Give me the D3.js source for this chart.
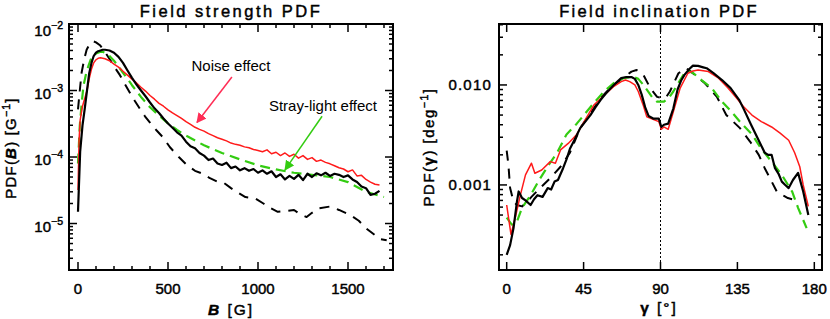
<!DOCTYPE html>
<html>
<head>
<meta charset="utf-8">
<script src="https://cdn.jsdelivr.net/npm/d3@7"></script>
<style>
  body { margin: 0; background: #fff; }
  svg { display: block; font-family: "Liberation Sans", Arial, sans-serif; }
  .ax { stroke: #000; stroke-width: 0.45px; }
</style>
</head>
<body>
<svg id="chart" width="830" height="319"></svg>
<script>
// ---- left panel: field strength PDF ----
var bObs = [0,12,25,37,50,62,75,87,100,112,125,137,150,175,200,225,250,275,300,325,350,375,400,425,450,475,500,525,550,575,600,625,650,675,700,725,750,775,800,825,850,875,900,925,950,975,1000,1025,1050,1075,1100,1125,1150,1175,1200,1225,1250,1275,1300,1325,1350,1375,1400,1425,1450,1475,1500,1525,1550,1575,1600,1625,1650,1675];
var pdfObs = [1.5e-5,1.2e-4,3.0e-4,5.2e-4,1.0e-3,1.8e-3,2.6e-3,3.3e-3,3.7e-3,3.9e-3,4.0e-3,4.1e-3,4.1e-3,4.0e-3,3.7e-3,3.2e-3,2.6e-3,2.0e-3,1.55e-3,1.23e-3,1.0e-3,8.2e-4,6.6e-4,5.4e-4,4.6e-4,3.8e-4,3.2e-4,2.75e-4,2.35e-4,2.1e-4,1.7e-4,1.45e-4,1.35e-4,1.15e-4,1.05e-4,9.0e-5,9.5e-5,8.0e-5,7.6e-5,8.2e-5,6.8e-5,7.2e-5,6.3e-5,6.8e-5,6.2e-5,6.6e-5,5.8e-5,6.3e-5,5.6e-5,6.1e-5,5.0e-5,5.5e-5,4.6e-5,5.2e-5,4.7e-5,5.4e-5,4.5e-5,5.6e-5,5.0e-5,5.7e-5,5.3e-5,5.8e-5,5.2e-5,5.6e-5,5.4e-5,5.0e-5,5.3e-5,4.6e-5,4.2e-5,3.6e-5,3.4e-5,2.7e-5,2.8e-5,3.1e-5];

var bNoise = [0,6,12,25,37,50,62,75,87,100,112,125,150,175,200,225,250,275,300,325,350,375,400,425,450,475,500,525,550,575,600,625,650,675,700,725,750,775,800,825,850,875,900,925,950,975,1000,1025,1050,1075,1100,1125,1150,1175,1200,1225,1250,1275,1300,1325,1350,1375,1400,1425,1450,1475,1500,1525,1550,1575,1600,1625,1650,1675];
var pdfNoise = [3.2e-5,1.8e-4,3.6e-4,5.8e-4,7.5e-4,1.0e-3,1.5e-3,2.1e-3,2.6e-3,2.9e-3,3.05e-3,3.1e-3,3.0e-3,2.8e-3,2.5e-3,2.25e-3,1.95e-3,1.7e-3,1.48e-3,1.3e-3,1.12e-3,9.8e-4,8.4e-4,7.4e-4,6.4e-4,5.8e-4,5.1e-4,4.6e-4,4.2e-4,3.8e-4,3.4e-4,3.1e-4,2.8e-4,2.6e-4,2.45e-4,2.25e-4,2.1e-4,1.95e-4,1.85e-4,1.75e-4,1.62e-4,1.55e-4,1.5e-4,1.42e-4,1.38e-4,1.3e-4,1.25e-4,1.2e-4,1.28e-4,1.12e-4,1.18e-4,1.05e-4,1.15e-4,1.02e-4,1.1e-4,9.6e-5,1.05e-4,9.2e-5,9.8e-5,8.6e-5,9.0e-5,8.3e-5,7.9e-5,7.4e-5,6.9e-5,6.6e-5,6.0e-5,6.4e-5,5.2e-5,5.3e-5,4.6e-5,4.2e-5,3.9e-5,3.8e-5];

var bStray = [0,10,20,30,45,57,70,85,100,122,140,160,180,200,225,250,275,300,350,400,450,500,550,600,700,800,900,1000,1100,1200,1300,1400,1500,1600,1700];
var pdfStray = [8e-5,3e-4,6.2e-4,1.16e-3,1.8e-3,2.3e-3,2.9e-3,3.3e-3,3.6e-3,3.8e-3,3.8e-3,3.6e-3,3.2e-3,2.8e-3,2.3e-3,1.85e-3,1.5e-3,1.2e-3,8.0e-4,5.6e-4,4.2e-4,3.2e-4,2.55e-4,2.1e-4,1.5e-4,1.15e-4,9.2e-5,7.5e-5,6.5e-5,5.8e-5,5.4e-5,5.0e-5,4.2e-5,3.0e-5,2.5e-5];

var bModel = [0,10,20,35,48,65,85,100,122,150,178,205,233,260,289,315,344,372,400,437,474,511,560,600,650,700,733,780,810,850,890,930,983,1030,1070,1110,1160,1200,1230,1270,1300,1340,1400,1450,1511,1560,1600,1640,1680,1715];
var pdfModel = [5.2e-4,1.0e-3,1.85e-3,3.0e-3,4.1e-3,5.0e-3,5.5e-3,5.3e-3,4.8e-3,3.8e-3,2.9e-3,2.2e-3,1.7e-3,1.25e-3,9.2e-4,7.0e-4,5.3e-4,4.1e-4,3.3e-4,2.5e-4,1.95e-4,1.4e-4,1.0e-4,7.8e-5,6.2e-5,5.5e-5,4.8e-5,4.2e-5,4.1e-5,3.4e-5,2.9e-5,2.5e-5,2.4e-5,2.0e-5,1.7e-5,1.5e-5,1.55e-5,1.6e-5,1.4e-5,1.25e-5,1.45e-5,1.7e-5,1.8e-5,1.6e-5,1.35e-5,1.1e-5,8.5e-6,7.0e-6,5.8e-6,5.6e-6];

var bTicks = [0, 500, 1000, 1500];
var bPdfTicks = [1e-5, 1e-4, 1e-3, 1e-2];
var bPdfExp = ["\u22125", "\u22124", "\u22123", "\u22122"];

// ---- right panel: field inclination PDF ----
var gObs = [0,2,4,6,7,9,11,14,16,18,21,24,26,28,30,33,35,37,40,43,46,49,52,55,58,61,64,67,70,73,75,77,79,81,83,86,89,90.5,92,94.5,97.5,100,102,104,107,109,112,115,117,121,126,131,136,139,143,147,151,153,155,157,159,161,163,165,167.5,170.5,173.5,176.5];
var pdfGObs = [2.0e-4,2.5e-4,3.7e-4,6.8e-4,8.6e-4,7.4e-4,7.0e-4,6.3e-4,7.2e-4,7.9e-4,7.6e-4,9.3e-4,9.0e-4,1.08e-3,1.12e-3,1.47e-3,1.8e-3,2.3e-3,2.9e-3,3.7e-3,4.3e-3,5.0e-3,6.0e-3,7.1e-3,8.2e-3,9.3e-3,1.05e-2,1.17e-2,1.2e-2,1.2e-2,1.15e-2,1.0e-2,8.0e-3,6.0e-3,4.9e-3,4.6e-3,4.6e-3,3.8e-3,4.0e-3,4.1e-3,5.8e-3,9.0e-3,1.1e-2,1.26e-2,1.45e-2,1.56e-2,1.55e-2,1.5e-2,1.47e-2,1.31e-2,1.12e-2,9.3e-3,7.1e-3,5.6e-3,4.0e-3,2.9e-3,2.1e-3,2.0e-3,2.0e-3,1.47e-3,1.3e-3,1.08e-3,1.0e-3,9.3e-4,1.12e-3,1.32e-3,8.6e-4,5.0e-4];

var gNoise = [0,2.5,5,8,11,14.5,16.5,20.5,25.5,28.5,31.5,36,41,46,51,57,62.5,67,69.5,72,75,77,80,82,86,89,90.5,92,94.5,97.5,101.5,106,109,112,118,124,129.5,134.5,138.5,143.5,149,155,160,165,168.5,171.5,173.5,176.5];
var pdfGNoise = [6.3e-4,3.2e-4,4.7e-4,7.9e-4,1.26e-3,1.65e-3,1.31e-3,1.41e-3,1.71e-3,1.65e-3,2.24e-3,2.6e-3,3.2e-3,4.5e-3,6.3e-3,7.9e-3,9.6e-3,1.08e-2,1.12e-2,1.08e-2,1.0e-2,8.6e-3,6.2e-3,4.8e-3,4.5e-3,4.3e-3,3.6e-3,3.8e-3,3.6e-3,5.4e-3,9.3e-3,1.31e-2,1.38e-2,1.41e-2,1.36e-2,1.17e-2,9.3e-3,7.4e-3,6.1e-3,5.0e-3,4.3e-3,3.8e-3,3.3e-3,2.8e-3,2.1e-3,1.52e-3,1.0e-3,6.1e-4];

var gStray = [0,3,6,9,14,19,24.5,29.5,35,41,46,51,57,62.5,68.5,74,77,80,85,88,92,95,97.5,101.5,105,109,114,120,126,131.5,137.5,143.5,149,155,161,167,170.5,175.5];
var pdfGStray = [4.7e-4,4.0e-4,4.3e-4,5.9e-4,7.9e-4,1.12e-3,1.58e-3,2.1e-3,3.2e-3,4.1e-3,5.2e-3,6.6e-3,8.6e-3,1.04e-2,1.17e-2,1.21e-2,1.15e-2,1.0e-2,7.6e-3,6.8e-3,6.8e-3,7.5e-3,8.6e-3,1.12e-2,1.4e-2,1.32e-2,1.12e-2,9.3e-3,6.8e-3,5.4e-3,4.1e-3,3.2e-3,2.3e-3,1.71e-3,1.26e-3,8.6e-4,5.9e-4,3.7e-4];

var gModel = [0,1,2,4,6,9,12,14.5,19.5,25.5,31.5,37,43,49,55,60.5,66.5,73,76,80,84,88,91,93,95.5,100.5,105,108,116,123,128.5,136.5,142.5,147.5,151,154,158,162,164.5,167];
var pdfGModel = [2.2e-3,1.6e-3,9.3e-4,6.8e-4,6.3e-4,6.1e-4,6.8e-4,7.6e-4,9.3e-4,1.17e-3,1.52e-3,2.1e-3,3.7e-3,5.2e-3,7.4e-3,9.3e-3,1.12e-2,1.36e-2,1.41e-2,1.26e-2,9.3e-3,7.6e-3,7.4e-3,7.4e-3,8.6e-3,1.31e-2,1.47e-2,1.35e-2,1.04e-2,7.6e-3,5.0e-3,3.7e-3,2.7e-3,2.0e-3,1.47e-3,1.17e-3,8.6e-4,7.8e-4,7.4e-4,7.2e-4];

var gTicks = [0, 45, 90, 135, 180];
var gPdfTicks = [0.001, 0.01];
var gPdfLabels = ["0.001", "0.010"];

var svg = d3.select("#chart");
var red = "#ff1a1a", green = "#33cc11";

// scales
var xB = d3.scaleLinear().domain([-50, 1750]).range([69, 393]);
var yB = d3.scaleLog().domain([2e-6, 1e-2]).range([270, 24]);
var xG = d3.scaleLinear().domain([-4.5, 184.5]).range([499, 822]);
var yG = d3.scaleLog().domain([1.41e-4, 0.0407]).range([270, 24]);

function series(xs, ys, x, y, color, width, dash) {
  var pts = xs.map(function(d, i) { return [d, ys[i]]; });
  svg.append("path")
    .datum(pts)
    .attr("fill", "none")
    .attr("stroke", color)
    .attr("stroke-width", width)
    .attr("stroke-dasharray", dash)
    .attr("stroke-linejoin", "round")
    .attr("d", d3.line().x(function(d) { return x(d[0]); }).y(function(d) { return y(d[1]); }));
}

// inward ticks on all four sides
function ticks(x, y, xMajor, xMinor, yMajor, yMinor) {
  var x0 = x.range()[0], x1 = x.range()[1], y0 = y.range()[0], y1 = y.range()[1];
  var g = svg.append("g").attr("stroke", "#000").attr("stroke-width", 1.5);
  xMajor.concat(xMinor).forEach(function(v) {
    var len = xMajor.indexOf(v) >= 0 ? 8 : 4;
    g.append("line").attr("x1", x(v)).attr("x2", x(v)).attr("y1", y0).attr("y2", y0 - len);
    g.append("line").attr("x1", x(v)).attr("x2", x(v)).attr("y1", y1).attr("y2", y1 + len);
  });
  yMajor.concat(yMinor).forEach(function(v) {
    var len = yMajor.indexOf(v) >= 0 ? 8 : 4;
    g.append("line").attr("y1", y(v)).attr("y2", y(v)).attr("x1", x0).attr("x2", x0 + len);
    g.append("line").attr("y1", y(v)).attr("y2", y(v)).attr("x1", x1).attr("x2", x1 - len);
  });
  svg.append("rect")
    .attr("x", x0).attr("y", y1)
    .attr("width", x1 - x0).attr("height", y0 - y1)
    .attr("fill", "none").attr("stroke", "#000").attr("stroke-width", 2);
}

// ---------- left panel ----------
var bMinor = xB.ticks(18).filter(function(v) { return bTicks.indexOf(v) < 0; });
var bPdfMinor = yB.ticks().filter(function(v) { return bPdfTicks.indexOf(v) < 0; });

series(bModel, pdfModel, xB, yB, "#000", 2, "10,8");
series(bStray, pdfStray, xB, yB, green, 2.2, "10,6");
series(bNoise, pdfNoise, xB, yB, red, 1.5, null);
series(bObs, pdfObs, xB, yB, "#000", 2.2, null);
ticks(xB, yB, bTicks, bMinor, bPdfTicks, bPdfMinor);

svg.selectAll(".bl").data(bTicks).enter().append("text")
  .attr("class", "ax")
  .attr("x", function(d) { return xB(d); })
  .attr("y", 294)
  .attr("text-anchor", "middle")
  .attr("font-size", 15)
  .text(function(d) { return d; });

svg.selectAll(".pl").data(bPdfTicks).enter().append("text")
  .attr("class", "ax")
  .attr("x", 63)
  .attr("y", function(d) { return Math.max(yB(d) + 8, 36); })
  .attr("text-anchor", "end")
  .attr("font-size", 15)
  .each(function(d, i) {
    var t = d3.select(this);
    t.append("tspan").text("10");
    t.append("tspan").attr("dy", -7).attr("font-size", 10.5).text(bPdfExp[i]);
  });

svg.append("text")
  .attr("class", "ax")
  .attr("x", 231).attr("y", 17)
  .attr("text-anchor", "middle")
  .attr("font-size", 16.5)
  .attr("letter-spacing", 2.5)
  .text("Field strength PDF");

var xl = svg.append("text")
  .attr("class", "ax")
  .attr("x", 231).attr("y", 315)
  .attr("text-anchor", "middle")
  .attr("font-size", 15.5)
  .attr("letter-spacing", 2);
xl.append("tspan").attr("font-style", "italic").attr("font-weight", "bold").text("B");
xl.append("tspan").text(" [G]");

var yl = svg.append("text")
  .attr("class", "ax")
  .attr("transform", "translate(16,148) rotate(-90)")
  .attr("text-anchor", "middle")
  .attr("font-size", 15)
  .attr("letter-spacing", 1.2);
yl.append("tspan").text("PDF(");
yl.append("tspan").attr("font-style", "italic").attr("font-weight", "bold").text("B");
yl.append("tspan").text(") [G");
yl.append("tspan").attr("dy", -6).attr("font-size", 10.5).text("\u22121");
yl.append("tspan").attr("dy", 6).text("]");

// annotations
var defs = svg.append("defs");
[["headRed", "#ff2d55"], ["headGreen", green]].forEach(function(m) {
  defs.append("marker")
    .attr("id", m[0])
    .attr("viewBox", "0 0 10 10")
    .attr("refX", 9).attr("refY", 5)
    .attr("markerWidth", 10).attr("markerHeight", 10)
    .attr("markerUnits", "userSpaceOnUse")
    .attr("orient", "auto")
    .append("path").attr("d", "M0,0 L10,5 L0,10 Z").attr("fill", m[1]);
});

svg.append("line")
  .attr("x1", xB(855)).attr("y1", yB(1.6e-3))
  .attr("x2", xB(661)).attr("y2", yB(3.3e-4))
  .attr("stroke", "#ff2d55").attr("stroke-width", 1.5)
  .attr("marker-end", "url(#headRed)");
svg.append("line")
  .attr("x1", xB(1356)).attr("y1", yB(4.1e-4))
  .attr("x2", xB(1150)).attr("y2", yB(6.4e-5))
  .attr("stroke", green).attr("stroke-width", 1.5)
  .attr("marker-end", "url(#headGreen)");

svg.append("text")
  .attr("x", xB(850)).attr("y", yB(1.96e-3))
  .attr("text-anchor", "middle").attr("font-size", 15)
  .text("Noise effect");
svg.append("text")
  .attr("x", xB(1361)).attr("y", yB(4.9e-4))
  .attr("text-anchor", "middle").attr("font-size", 15)
  .text("Stray-light effect");

// ---------- right panel ----------
var gPdfMinor = yG.ticks().filter(function(v) { return gPdfTicks.indexOf(v) < 0; });

svg.append("line")
  .attr("x1", xG(90)).attr("x2", xG(90))
  .attr("y1", yG.range()[0]).attr("y2", yG.range()[1])
  .attr("stroke", "#000").attr("stroke-width", 1)
  .attr("stroke-dasharray", "2,2");

series(gModel, pdfGModel, xG, yG, "#000", 2, "10,8");
series(gStray, pdfGStray, xG, yG, green, 2.2, "10,6");
series(gNoise, pdfGNoise, xG, yG, red, 1.5, null);
series(gObs, pdfGObs, xG, yG, "#000", 2.2, null);
ticks(xG, yG, gTicks, [], gPdfTicks, gPdfMinor);

svg.selectAll(".gl").data(gTicks).enter().append("text")
  .attr("class", "ax")
  .attr("x", function(d) { return xG(d); })
  .attr("y", 294)
  .attr("text-anchor", "middle")
  .attr("font-size", 15)
  .text(function(d) { return d; });

svg.selectAll(".gp").data(gPdfTicks).enter().append("text")
  .attr("class", "ax")
  .attr("x", 492)
  .attr("y", function(d) { return yG(d) + 5.5; })
  .attr("text-anchor", "end")
  .attr("font-size", 15)
  .attr("letter-spacing", 1.2)
  .text(function(d, i) { return gPdfLabels[i]; });

svg.append("text")
  .attr("class", "ax")
  .attr("x", 659).attr("y", 17)
  .attr("text-anchor", "middle")
  .attr("font-size", 16.5)
  .attr("letter-spacing", 2.3)
  .text("Field inclination PDF");

var xl2 = svg.append("text")
  .attr("class", "ax")
  .attr("x", 659).attr("y", 313)
  .attr("text-anchor", "middle")
  .attr("font-size", 15.5)
  .attr("letter-spacing", 2);
xl2.append("tspan").attr("font-weight", "bold").text("\u03b3");
xl2.append("tspan").text(" [\u00b0]");

var yl2 = svg.append("text")
  .attr("class", "ax")
  .attr("transform", "translate(434,147) rotate(-90)")
  .attr("text-anchor", "middle")
  .attr("font-size", 15)
  .attr("letter-spacing", 1.5);
yl2.append("tspan").text("PDF(");
yl2.append("tspan").attr("font-weight", "bold").text("\u03b3");
yl2.append("tspan").text(") [deg");
yl2.append("tspan").attr("dy", -6).attr("font-size", 10.5).text("\u22121");
yl2.append("tspan").attr("dy", 6).text("]");
</script>
</body>
</html>
